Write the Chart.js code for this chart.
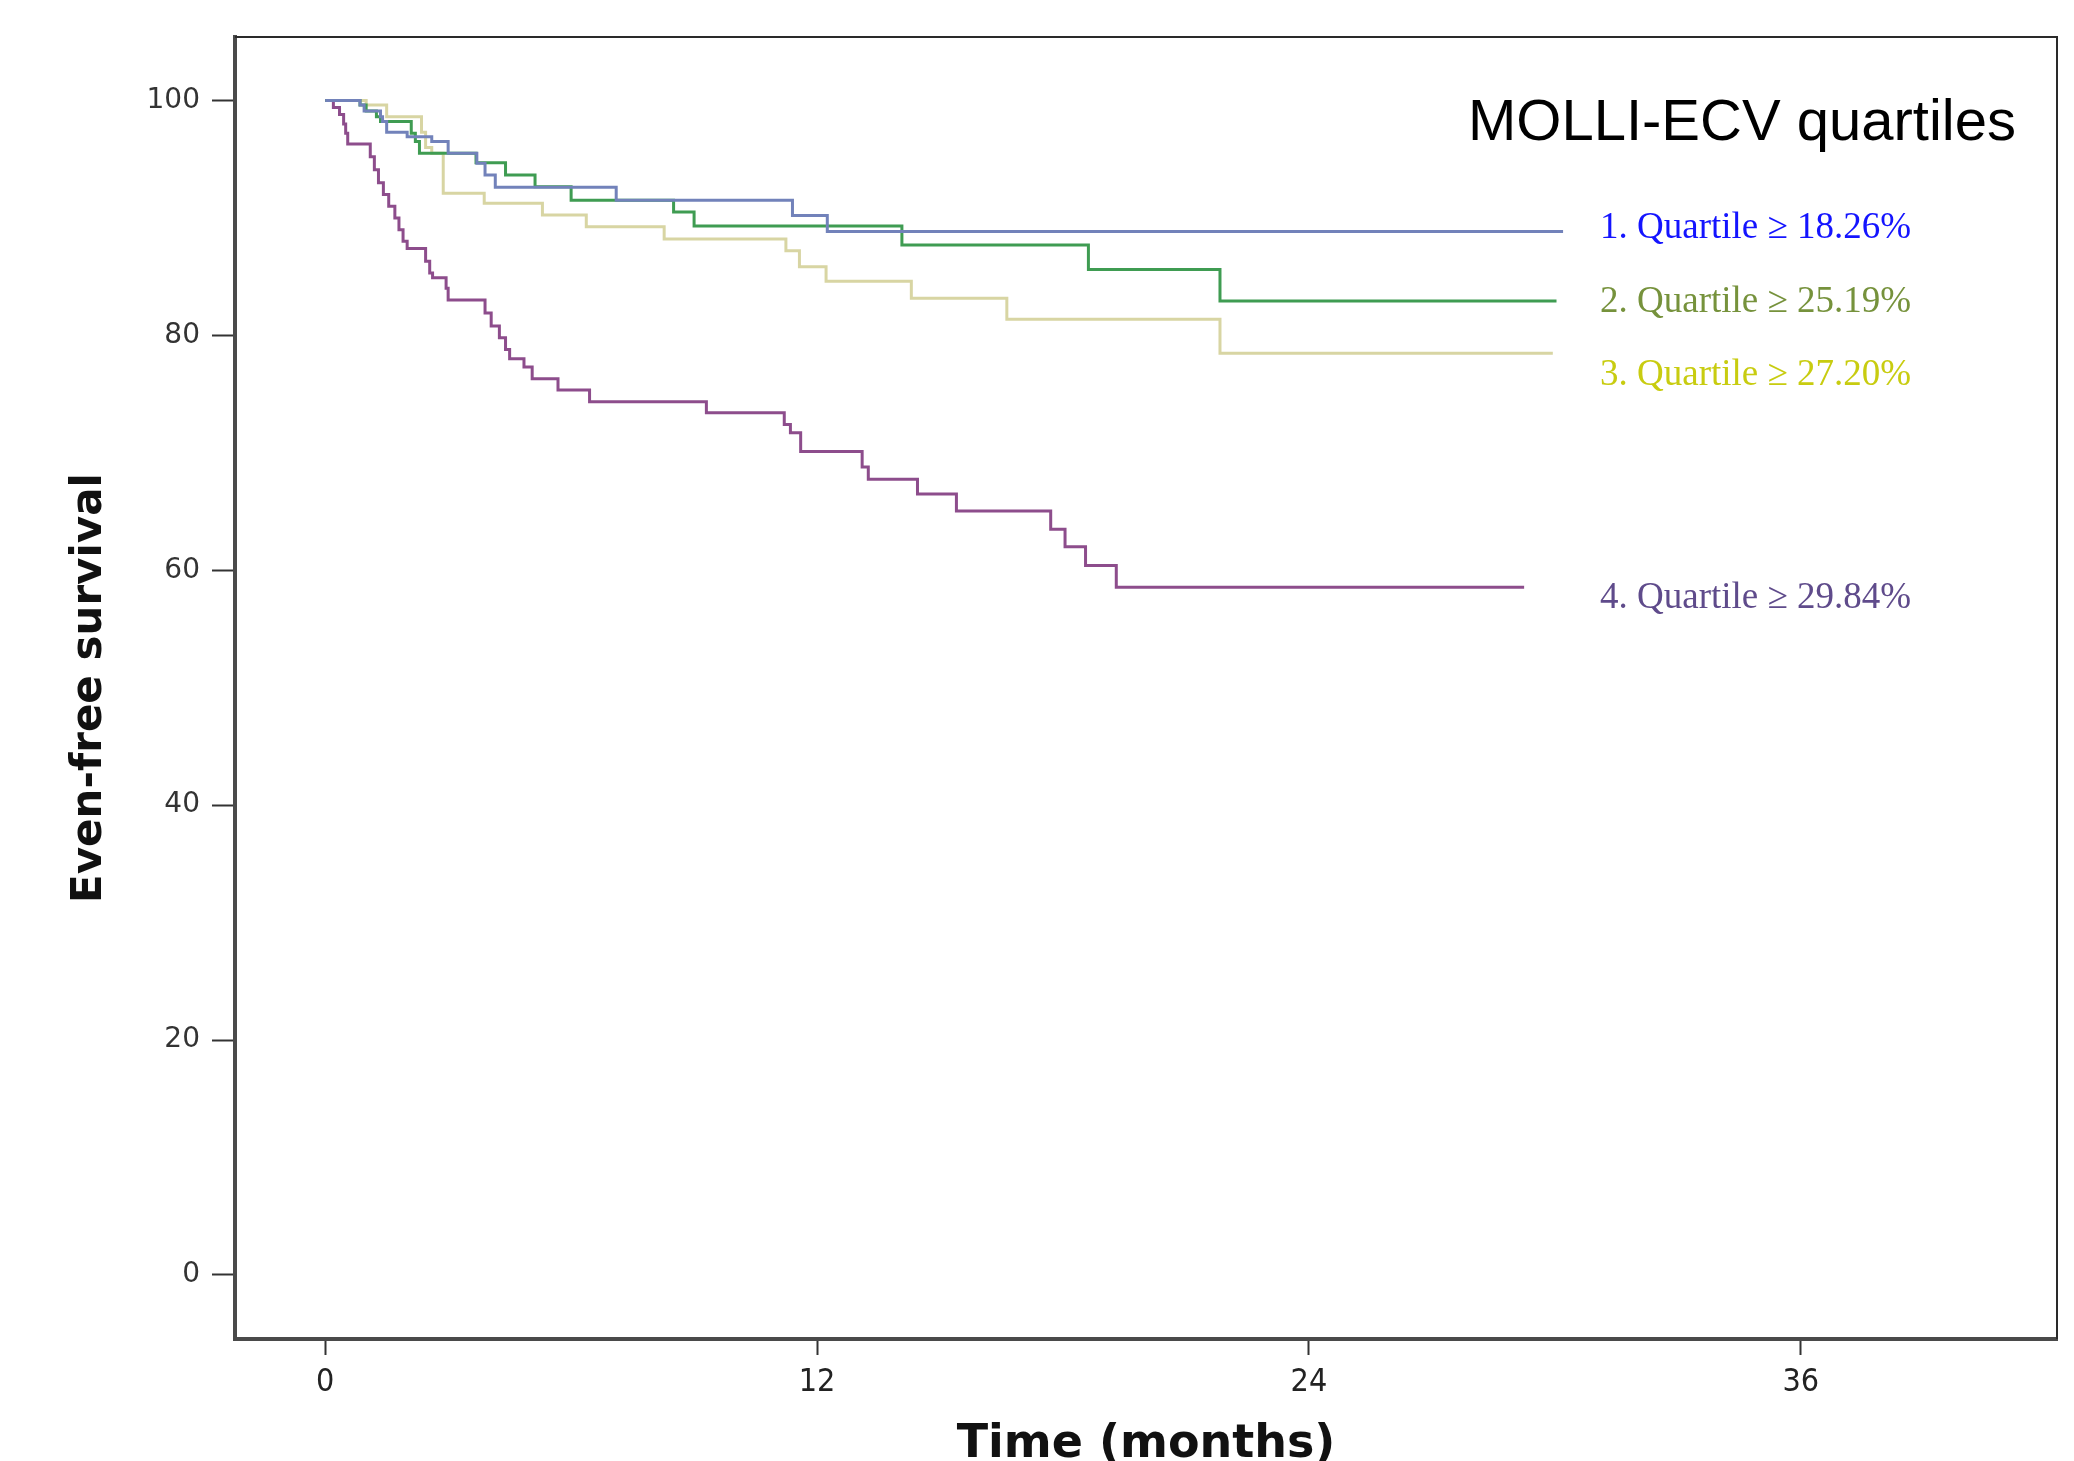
<!DOCTYPE html>
<html>
<head>
<meta charset="utf-8">
<script src="https://cdn.jsdelivr.net/npm/chart.js@4.4.1/dist/chart.umd.min.js"></script>
<style>
  html, body { margin: 0; padding: 0; background: #fff; }
  #wrap { width: 2074px; height: 1461px; position: relative; }
</style>
</head>
<body>
<div id="wrap"><canvas id="km"></canvas></div>
<script>
// Kaplan-Meier steps: time (months) of each drop and survival (%) after it; last point = end of follow-up
const months1 = [0, 0.85, 0.95, 1.35, 1.4, 1.5, 2.0, 2.6, 3.0, 3.7, 3.9, 4.15, 7.1, 11.4, 12.25, 30.2];
const surv1   = [100, 99.6, 99.1, 98.6, 98.2, 97.3, 96.9, 96.5, 95.5, 94.65, 93.66, 92.6, 91.5, 90.2, 88.83, 88.83];

const months2 = [0, 0.85, 1.0, 1.25, 1.35, 2.1, 2.2, 2.3, 3.68, 4.4, 5.12, 6.0, 8.5, 9.0, 14.07, 18.62, 21.83, 30.04];
const surv2   = [100, 99.6, 99.1, 98.6, 98.2, 97.2, 96.5, 95.5, 94.7, 93.66, 92.66, 91.5, 90.5, 89.3, 87.7, 85.6, 82.93, 82.93];

const months3 = [0, 1.0, 1.5, 2.35, 2.45, 2.6, 2.88, 3.88, 5.3, 6.37, 8.27, 11.24, 11.57, 12.22, 14.3, 16.63, 21.83, 29.95];
const surv3   = [100, 99.6, 98.6, 97.3, 96.0, 95.5, 92.1, 91.25, 90.25, 89.25, 88.2, 87.2, 85.85, 84.6, 83.16, 81.37, 78.47, 78.47];

const months4 = [0, 0.2, 0.35, 0.45, 0.5, 0.55, 1.1, 1.2, 1.3, 1.42, 1.55, 1.7, 1.8, 1.9, 2.0,
                 2.45, 2.55, 2.62, 2.95, 3.0, 3.9, 4.05, 4.25, 4.4, 4.5, 4.85, 5.05, 5.68, 6.45, 9.3,
                 11.2, 11.35, 11.6, 13.1, 13.25, 14.45, 15.4, 17.7, 18.05, 18.55, 19.3, 29.25];
const surv4   = [100, 99.4, 98.8, 98.0, 97.2, 96.3, 95.2, 94.1, 93.0, 92.0, 91.0, 90.0, 89.0, 88.0, 87.4,
                 86.3, 85.3, 84.9, 84.0, 83.0, 81.9, 80.8, 79.8, 78.8, 78.0, 77.3, 76.3, 75.35, 74.35, 73.4,
                 72.4, 71.7, 70.1, 68.8, 67.75, 66.5, 65.05, 63.5, 62.0, 60.4, 58.55, 58.55];

const xTicks = [0, 12, 24, 36];
const yTicks = [0, 20, 40, 60, 80, 100];

const quartileLabels = ['1. Quartile \u2265 18.26%', '2. Quartile \u2265 25.19%', '3. Quartile \u2265 27.20%', '4. Quartile \u2265 29.84%'];
const chartTitle = 'MOLLI-ECV quartiles';
const xTitle = 'Time (months)';
const yTitle = 'Even-free survival';

const lineColors  = ['#7282ba', '#3f9c52', '#d8d5a3', '#8d4d8c'];
const labelColors = ['#1414ff', '#76923c', '#c8cc10', '#5f4b8b'];

const toPoints = (xs, ys) => xs.map((x, i) => ({ x: x, y: ys[i] }));
const series = [toPoints(months1, surv1), toPoints(months2, surv2), toPoints(months3, surv3), toPoints(months4, surv4)];

// text and frame that Chart.js has no option for
const textPlugin = {
  id: 'kmText',
  afterDraw(chart) {
    const { ctx, chartArea: a } = chart;
    ctx.save();
    ctx.strokeStyle = '#2a2a2a';
    ctx.lineWidth = 2;
    ctx.beginPath();
    ctx.moveTo(a.left, a.top);
    ctx.lineTo(a.right, a.top);
    ctx.lineTo(a.right, a.bottom);
    ctx.stroke();

    ctx.fillStyle = '#000';
    ctx.font = '58px "Liberation Sans", Arial, sans-serif';
    ctx.textAlign = 'left';
    ctx.textBaseline = 'alphabetic';
    ctx.fillText(chartTitle, 1468, 140);

    const labelY = [228, 302, 375, 598];
    ctx.font = '37px "Liberation Serif", "Times New Roman", serif';
    ctx.textBaseline = 'middle';
    quartileLabels.forEach((t, i) => {
      ctx.fillStyle = labelColors[i];
      ctx.fillText(t, 1600, labelY[i]);
    });

    ctx.fillStyle = '#111';
    ctx.font = 'bold 46px "DejaVu Sans", Verdana, sans-serif';
    ctx.textAlign = 'center';
    ctx.textBaseline = 'alphabetic';
    ctx.fillText(xTitle, (a.left + a.right) / 2, 1457);

    ctx.translate(90, (a.top + a.bottom) / 2);
    ctx.rotate(-Math.PI / 2);
    ctx.font = 'bold 42px "DejaVu Sans", Verdana, sans-serif';
    ctx.textBaseline = 'middle';
    ctx.fillText(yTitle, 0, 0);
    ctx.restore();
  }
};

const ctx = document.getElementById('km').getContext('2d');
const kmChart = new Chart(ctx, {
  type: 'line',
  data: {
    datasets: series.map((pts, i) => ({
      label: quartileLabels[i],
      data: pts,
      borderColor: lineColors[i],
      borderWidth: 3,
      stepped: true,
      pointRadius: 0,
      fill: false
    }))
  },
  options: {
    responsive: true,
    maintainAspectRatio: false,
    animation: false,
    devicePixelRatio: 1,
    layout: { padding: { top: 37, right: 17, left: 0, bottom: 0 } },
    plugins: {
      legend: { display: false },
      tooltip: { enabled: false },
      title: { display: false }
    },
    scales: {
      x: {
        type: 'linear',
        min: -2.2,
        max: 42.25,
        afterBuildTicks: (scale) => { scale.ticks = xTicks.map(v => ({ value: v })); },
        afterFit: (scale) => { scale.height = 122; },
        border: { display: true, width: 4, color: '#4a4a4a' },
        grid: { drawOnChartArea: false, drawTicks: true, tickLength: 16, tickWidth: 2, tickColor: '#333' },
        ticks: { color: '#222', padding: 8, maxRotation: 0, font: { family: '"DejaVu Sans Condensed", "DejaVu Sans", sans-serif', size: 32 } }
      },
      y: {
        type: 'linear',
        min: -5.45,
        max: 105.4,
        afterBuildTicks: (scale) => { scale.ticks = yTicks.map(v => ({ value: v })); },
        afterFit: (scale) => { scale.width = 235; },
        border: { display: true, width: 4, color: '#4a4a4a' },
        grid: { drawOnChartArea: false, drawTicks: true, tickLength: 23, tickWidth: 2, tickColor: '#333' },
        ticks: { color: '#333', padding: 12, font: { family: '"DejaVu Sans", sans-serif', size: 28 } }
      }
    }
  },
  plugins: [textPlugin]
});
</script>
</body>
</html>
